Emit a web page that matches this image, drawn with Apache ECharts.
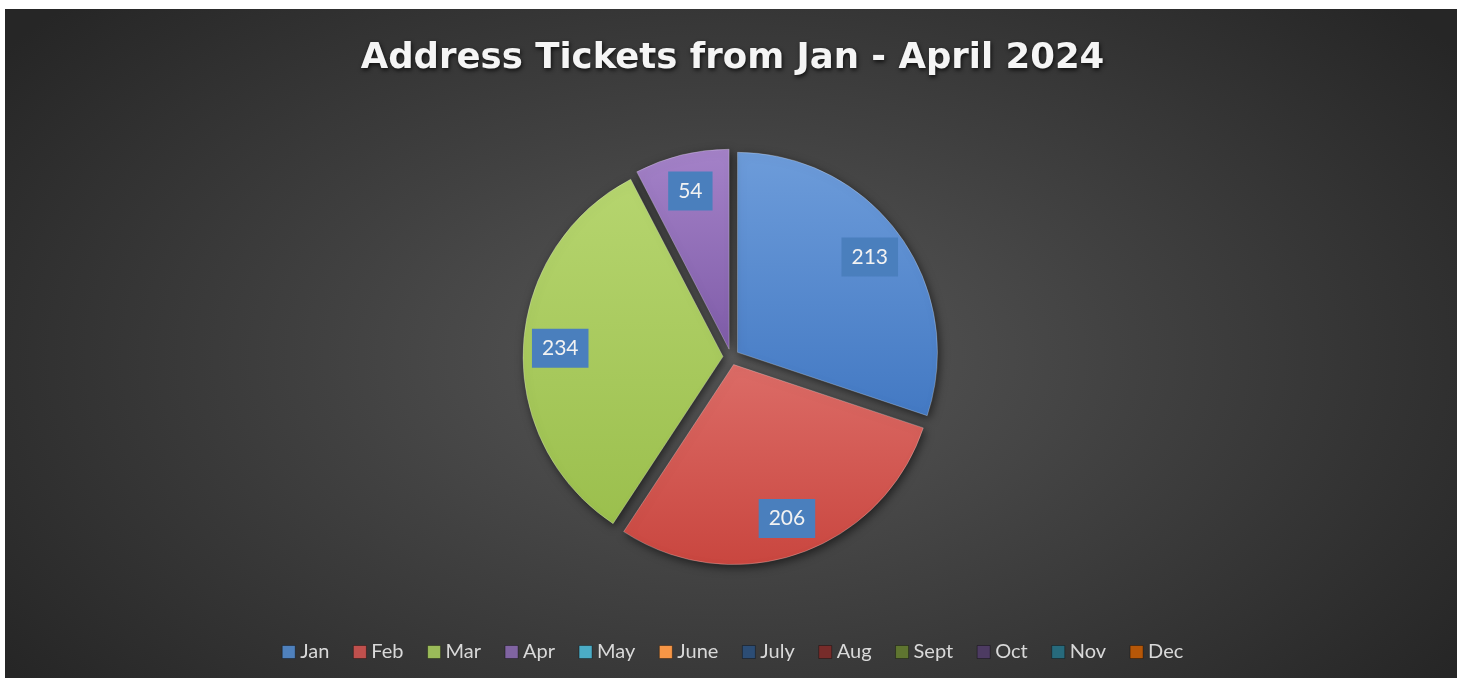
<!DOCTYPE html>
<html>
<head>
<meta charset="utf-8">
<script src="https://cdn.jsdelivr.net/npm/echarts@6/dist/echarts.min.js"></script>
<style>
html,body{margin:0;padding:0;background:#fff;}
#bg{position:absolute;left:5px;top:9px;width:1452px;height:669px;
background:radial-gradient(ellipse 62% 78% at 50% 52%, #585858 0%, #414141 45%, #262626 100%);}
#chart{position:absolute;left:0;top:0;width:1465px;height:683px;}
</style>
</head>
<body>
<div id="bg"></div>
<div id="chart"></div>
<script>
const titleText = 'Address Tickets from Jan - April 2024';
const months = ['Jan','Feb','Mar','Apr','May','June','July','Aug','Sept','Oct','Nov','Dec'];
const tickets = [213, 206, 234, 54, null, null, null, null, null, null, null, null];
const legendColors = ['#4F81BD','#C0504D','#9BBB59','#8064A2','#4BACC6','#F79646','#2C4D75','#772C2A','#5F7530','#4D3B62','#276A7C','#B65708'];
const sliceTop = ['#6d9cda','#dc6c67','#b6d56f','#a482c8','#6cc4dc','#f9ad6b','#44689a','#94403d','#7a9444','#66507e','#3c8599','#cf7020'];
const sliceBottom = ['#4379c3','#c9463f','#9bbf4d','#7f5ca8','#3e9db8','#e8842f','#26446a','#652422','#4f6428','#3f3052','#1f5a6b','#9f4a06'];

const chart = echarts.init(document.getElementById('chart'));
const G = (a,b) => new echarts.graphic.LinearGradient(0,0,0,1,[{offset:0,color:a},{offset:1,color:b}]);

const pieData = months.map((m,i) => ({
  name: m,
  value: tickets[i],
  selected: tickets[i] != null,
  itemStyle: { color: G(sliceTop[i], sliceBottom[i]) }
}));
const labelData = months.map((m,i) => ({
  name: m,
  value: tickets[i],
  selected: tickets[i] != null,
  label: { show: tickets[i] != null }
}));

const center = [731, 357];
const option = {
  backgroundColor: 'transparent',
  animation: false,
  title: {
    text: titleText,
    left: 'center',
    top: 36,
    textStyle: {
      fontFamily: 'DejaVu Sans', fontWeight: 'bold', fontSize: 35.5, color: '#f5f5f5',
      textShadowColor: 'rgba(0,0,0,0.75)', textShadowBlur: 4, textShadowOffsetX: 1, textShadowOffsetY: 2
    }
  },
  legend: {
    bottom: 16,
    left: 'center',
    itemWidth: 13,
    itemHeight: 13,
    itemGap: 23.5,
    icon: 'rect',
    selectedMode: false,
    textStyle: { fontFamily: 'Lato', fontSize: 20, color: '#d9d9d9' },
    data: months.map((m,i) => ({ name: m, itemStyle: { color: legendColors[i], borderColor: 'rgba(0,0,0,0.35)', borderWidth: 1 } }))
  },
  series: [
    {
      type: 'pie',
      center: center,
      radius: 200,
      startAngle: 90,
      clockwise: true,
      selectedMode: 'multiple',
      selectedOffset: 8,
      avoidLabelOverlap: false,
      label: { show: false },
      labelLine: { show: false },
      emphasis: { disabled: true },
      itemStyle: {
        borderColor: 'rgba(255,255,255,0.25)', borderWidth: 1,
        shadowBlur: 10, shadowColor: 'rgba(0,0,0,0.55)', shadowOffsetX: 2, shadowOffsetY: 3
      },
      select: { itemStyle: { borderColor: 'rgba(255,255,255,0.25)', borderWidth: 1 } },
      data: pieData
    },
    {
      type: 'pie',
      center: center,
      radius: [120, 200],
      startAngle: 90,
      clockwise: true,
      silent: true,
      selectedMode: 'multiple',
      selectedOffset: 8,
      avoidLabelOverlap: false,
      itemStyle: { color: 'rgba(0,0,0,0)', borderWidth: 0 },
      select: { itemStyle: { color: 'rgba(0,0,0,0)', borderWidth: 0 } },
      emphasis: { disabled: true },
      labelLine: { show: false },
      label: {
        position: 'inside',
        formatter: '{c}',
        fontFamily: 'Lato', fontSize: 21, color: '#f2f2f2',
        backgroundColor: '#4a7fbd',
        padding: [10, 10, 8, 10],
        textBorderWidth: 0
      },
      data: labelData
    }
  ]
};
chart.setOption(option);
</script>
</body>
</html>
